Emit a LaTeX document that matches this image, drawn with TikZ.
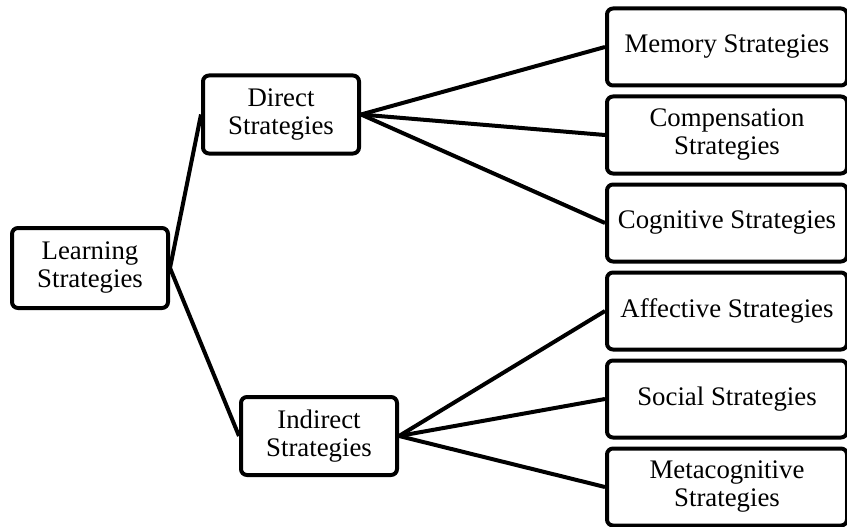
\documentclass[tikz,border=0pt]{standalone}
\usepackage{fontspec}
\setmainfont{Liberation Serif}
\usepackage{tikz}
\usetikzlibrary{shapes.geometric, arrows}
\tikzstyle{root} = [rectangle, rounded corners=6pt, minimum width=156pt, minimum height=80pt, align=center, draw=black, line width=4pt, fill=white, font=\fontsize{26.8}{28}\selectfont]
\tikzstyle{branch} = [rectangle, rounded corners=6pt, minimum width=156pt, minimum height=78pt, align=center, draw=black, line width=4pt, fill=white, font=\fontsize{26.8}{28}\selectfont]
\tikzstyle{leaf} = [rectangle, rounded corners=6pt, minimum width=240pt, minimum height=77pt, align=center, draw=black, line width=4pt, fill=white, font=\fontsize{26.8}{28}\selectfont]
\tikzstyle{link} = [line width=4pt, black]

\begin{document}
\begin{tikzpicture}[x=1pt, y=-1pt, node distance=88pt]
\useasboundingbox (0,0) rectangle (847,527);
% Nodes
\node (learn) [root] at (90,268) {Learning\\Strategies};
\node (direct) [branch] at (281,114.5) {Direct\\Strategies};
\node (indirect) [branch] at (319,436) {Indirect\\Strategies};
\node (memory) [leaf] at (727,47) {Memory Strategies};
\node (comp) [leaf, below of=memory] {Compensation\\Strategies};
\node (cogn) [leaf, below of=comp] {Cognitive Strategies};
\node (affect) [leaf, below of=cogn] {Affective Strategies};
\node (social) [leaf, below of=affect] {Social Strategies};
\node (meta) [leaf, below of=social] {Metacognitive\\Strategies};

% Lines
\draw [link] (learn.east) -- (direct.west);
\draw [link] (learn.east) -- (indirect.west);
\draw [link] (direct.east) -- (memory.west);
\draw [link] (direct.east) -- (comp.west);
\draw [link] (direct.east) -- (cogn.west);
\draw [link] (indirect.east) -- (affect.west);
\draw [link] (indirect.east) -- (social.west);
\draw [link] (indirect.east) -- (meta.west);
\end{tikzpicture}
\end{document}
